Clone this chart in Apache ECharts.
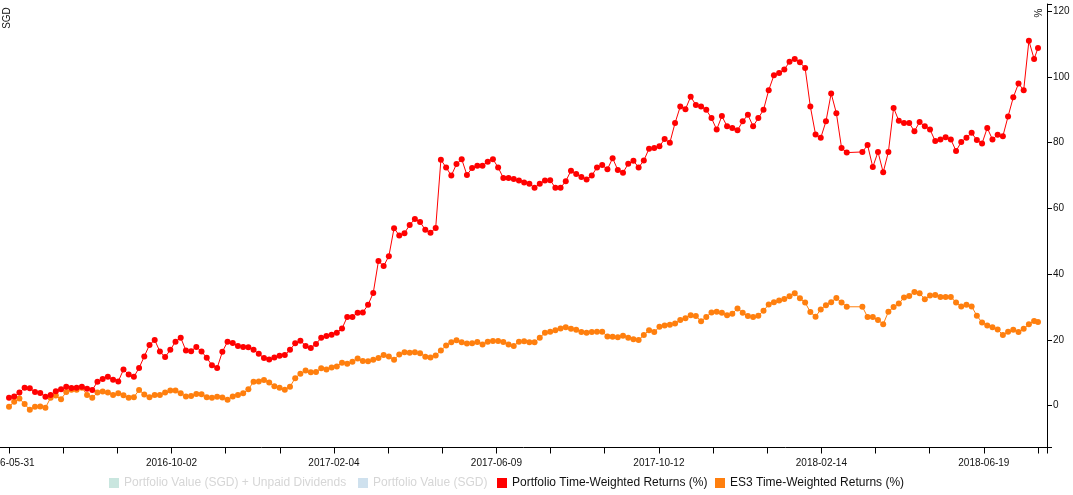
<!DOCTYPE html>
<html><head><meta charset="utf-8">
<script src="https://cdn.jsdelivr.net/npm/echarts@6/dist/echarts.min.js"></script>
<style>html,body{margin:0;padding:0;background:#fff}#c{width:1073px;height:495px}</style>
</head><body><div id="c"></div>
<script>
const dates = [
'2016-05-31','2016-06-04','2016-06-08','2016-06-12','2016-06-16','2016-06-20','2016-06-24','2016-06-28','2016-07-02','2016-07-06',
'2016-07-10','2016-07-14','2016-07-18','2016-07-22','2016-07-26','2016-07-30','2016-08-03','2016-08-07','2016-08-11','2016-08-15',
'2016-08-19','2016-08-23','2016-08-27','2016-08-31','2016-09-04','2016-09-08','2016-09-12','2016-09-16','2016-09-20','2016-09-24',
'2016-09-28','2016-10-02','2016-10-06','2016-10-10','2016-10-14','2016-10-18','2016-10-22','2016-10-26','2016-10-30','2016-11-03',
'2016-11-07','2016-11-11','2016-11-15','2016-11-19','2016-11-23','2016-11-27','2016-12-01','2016-12-05','2016-12-09','2016-12-13',
'2016-12-17','2016-12-21','2016-12-25','2016-12-29','2017-01-02','2017-01-06','2017-01-10','2017-01-14','2017-01-18','2017-01-22',
'2017-01-26','2017-01-30','2017-02-03','2017-02-07','2017-02-11','2017-02-15','2017-02-19','2017-02-23','2017-02-27','2017-03-03',
'2017-03-07','2017-03-11','2017-03-15','2017-03-19','2017-03-23','2017-03-27','2017-03-31','2017-04-04','2017-04-08','2017-04-12',
'2017-04-16','2017-04-20','2017-04-24','2017-04-28','2017-05-02','2017-05-06','2017-05-10','2017-05-14','2017-05-18','2017-05-22',
'2017-05-26','2017-05-30','2017-06-03','2017-06-07','2017-06-11','2017-06-15','2017-06-19','2017-06-23','2017-06-27','2017-07-01',
'2017-07-05','2017-07-09','2017-07-13','2017-07-17','2017-07-21','2017-07-25','2017-07-29','2017-08-02','2017-08-06','2017-08-10',
'2017-08-14','2017-08-18','2017-08-22','2017-08-26','2017-08-30','2017-09-03','2017-09-07','2017-09-11','2017-09-15','2017-09-19',
'2017-09-23','2017-09-27','2017-10-01','2017-10-05','2017-10-09','2017-10-13','2017-10-17','2017-10-21','2017-10-25','2017-10-29',
'2017-11-02','2017-11-06','2017-11-10','2017-11-14','2017-11-18','2017-11-22','2017-11-26','2017-11-30','2017-12-04','2017-12-08',
'2017-12-12','2017-12-16','2017-12-20','2017-12-24','2017-12-28','2018-01-01','2018-01-05','2018-01-09','2018-01-13','2018-01-17',
'2018-01-21','2018-01-25','2018-01-29','2018-02-02','2018-02-06','2018-02-10','2018-02-14','2018-02-18','2018-02-22','2018-02-26',
'2018-03-02','2018-03-06',
'2018-03-18','2018-03-22','2018-03-26','2018-03-30','2018-04-03','2018-04-07','2018-04-11','2018-04-15',
'2018-04-19','2018-04-23','2018-04-27','2018-05-01','2018-05-05','2018-05-09','2018-05-13','2018-05-17','2018-05-21','2018-05-25',
'2018-05-29','2018-06-02','2018-06-06','2018-06-10','2018-06-14','2018-06-18','2018-06-22','2018-06-26','2018-06-30','2018-07-04',
'2018-07-08','2018-07-12','2018-07-16','2018-07-20','2018-07-24','2018-07-28','2018-07-31'
];
const portfolioTWR = [
2.4,2.8,4.0,5.5,5.3,4.2,3.9,2.7,3.3,4.4,
5.0,5.8,5.4,5.5,5.8,5.2,4.8,7.3,8.1,8.8,
7.9,7.4,11.0,9.5,8.8,11.5,15.0,18.5,20.0,16.5,
14.8,17.0,19.5,20.7,16.8,16.6,17.9,16.5,14.6,12.3,
11.5,16.4,19.5,19.1,18.2,17.9,17.8,17.0,15.8,14.5,
14.1,14.7,15.2,15.4,17.0,19.0,19.8,18.2,17.6,18.8,
20.7,21.2,21.6,22.2,23.5,27.0,27.0,28.3,28.4,30.7,
34.3,44.0,42.5,45.5,54.0,51.8,52.5,55.0,56.8,55.9,
53.5,52.6,54.1,74.8,72.5,70.0,73.5,75.0,70.2,72.3,
73.0,73.0,74.2,75.0,72.5,69.3,69.3,69.0,68.5,67.9,
67.5,66.3,67.5,68.5,68.6,66.3,66.3,68.3,71.5,70.5,
69.6,68.8,70.0,72.5,73.2,71.9,75.3,71.7,70.9,73.6,
74.5,72.5,74.6,78.2,78.4,78.9,81.1,80.0,86.0,91.0,
90.2,94.0,91.5,91.0,90.0,87.5,84.0,88.1,85.0,84.5,
83.8,86.5,88.5,85.0,87.5,90.0,96.0,100.5,101.2,102.3,
104.6,105.5,104.5,102.7,91.0,82.5,81.5,86.5,95.0,89.0,
78.4,77.0,
77.2,79.3,72.6,77.2,71.0,77.2,90.6,86.7,
86.0,86.0,83.5,86.3,85.0,84.0,80.5,81.0,81.7,81.0,
77.5,80.2,81.5,83.0,80.8,79.8,84.5,81.0,82.4,82.0,
88.0,93.8,98.0,96.0,111.0,105.5,108.8
];
const es3TWR = [
-0.3,1.2,2.2,0.5,-1.2,-0.3,-0.2,-0.6,2.4,3.1,
2.0,4.2,4.9,4.9,5.5,3.3,2.4,4.0,4.3,4.0,
3.3,3.8,3.2,2.4,2.6,4.8,3.4,2.6,3.3,3.3,
4.0,4.6,4.6,3.8,2.8,3.0,3.6,3.5,2.6,2.4,
2.7,2.5,1.8,2.8,3.3,3.8,5.0,7.3,7.4,7.8,
7.1,5.9,5.5,4.9,5.8,8.4,9.7,10.7,10.2,10.3,
11.4,11.0,11.6,11.9,13.1,12.8,13.4,14.4,13.6,13.5,
14.0,14.5,15.4,15.0,14.0,15.6,16.3,16.1,16.3,16.0,
14.9,14.7,15.3,16.8,18.3,19.3,19.9,19.3,18.9,19.0,
19.4,18.6,19.5,19.7,19.7,19.4,18.6,18.2,19.5,19.6,
19.3,19.3,20.7,22.2,22.5,23.0,23.5,23.9,23.4,23.1,
22.4,22.2,22.4,22.5,22.5,21.1,21.0,20.8,21.3,20.7,
20.2,20.0,21.5,23.0,22.4,24.0,24.4,24.6,25.0,26.1,
26.6,27.5,27.3,25.7,27.0,28.4,28.6,28.3,27.5,28.0,
29.6,28.3,27.3,27.0,27.4,28.9,30.8,31.5,32.0,32.5,
33.3,34.2,32.7,31.4,28.5,27.1,29.3,30.6,31.5,32.8,
31.4,30.1,
30.1,27.0,27.0,26.1,24.8,28.6,30.0,31.1,
32.9,33.4,34.6,34.2,32.4,33.5,33.7,33.1,33.1,33.1,
31.4,30.2,30.7,30.2,27.4,25.3,24.4,23.9,23.2,21.5,
22.5,23.1,22.4,23.4,24.8,25.8,25.5
];
const xTickLabels = ['2016-05-31','2016-10-02','2017-02-04','2017-06-09','2017-10-12','2018-02-14','2018-06-19'];
const yTickLabels = [0,20,40,60,80,100,120];
const seriesNames = ['Portfolio Value (SGD) + Unpaid Dividends','Portfolio Value (SGD)','Portfolio Time-Weighted Returns (%)','ES3 Time-Weighted Returns (%)'];

function ts(s){const p=s.split('-');return Date.UTC(+p[0],+p[1]-1,+p[2]);}
const DAY=86400000;
const first=ts(dates[0]), last=ts(dates[dates.length-1]);
const nTicks=20;
const step=(last-first)/(nTicks-1);
const ticks=[];
for(let k=0;k<nTicks;k++) ticks.push(first+k*step);
const pad=6.92*DAY;
const xMin=first-pad, xMax=last+pad;
const labelVals=ticks.filter((v,k)=>k%3===0 && k<nTicks-1);
const yMin=-12.7, yMax=122.2;

const font='"Liberation Sans", Arial, sans-serif';
const redData=dates.map((d,i)=>[ts(d),portfolioTWR[i]]);
const orData=dates.map((d,i)=>[ts(d),es3TWR[i]]);

const chart=echarts.init(document.getElementById('c'),null,{renderer:'canvas'});
const legendStyles=[
 {left:109, icon:'#c9e6df', text:'#d6d6d6'},
 {left:358, icon:'#cfe1ee', text:'#d6d6d6'},
 {left:497, icon:'#ff0000', text:'#111'},
 {left:715, icon:'#ff7f0e', text:'#111'}
];
chart.setOption({
 animation:false,
 backgroundColor:'#fff',
 textStyle:{fontFamily:font},
 grid:{left:0,right:26,top:4,bottom:47.5,containLabel:false,outerBoundsMode:'none'},
 legend:legendStyles.map((s,i)=>({
   left:s.left, top:477, padding:0, itemWidth:10, itemHeight:10, selectedMode:false,
   icon:'rect',
   data:[{name:seriesNames[i], icon:'rect', itemStyle:{color:s.icon,borderWidth:0}, textStyle:{color:s.text,fontSize:12,fontFamily:font}}],
   textStyle:{fontSize:12,fontFamily:font,color:s.text}
 })),
 xAxis:{
   type:'value', min:xMin, max:xMax, scale:true,
   axisLine:{show:true,onZero:false,lineStyle:{color:'#000',width:1}},
   axisTick:{show:true,length:6,inside:false,customValues:ticks.concat([xMax]),lineStyle:{color:'#000'}},
   axisLabel:{show:true,customValues:labelVals,margin:11,fontSize:10,color:'#111',fontFamily:font,
     formatter:function(v){const idx=Math.round((v-first)/(3*step));return xTickLabels[idx]||'';}},
   splitLine:{show:false}
 },
 yAxis:{
   type:'value', position:'right', min:yMin, max:yMax,
   axisLine:{show:true,onZero:false,lineStyle:{color:'#000',width:1}},
   axisTick:{show:true,length:5,customValues:[yMin].concat(yTickLabels,[yMax]),lineStyle:{color:'#000'}},
   axisLabel:{show:true,customValues:yTickLabels,margin:6,fontSize:10,color:'#111',fontFamily:font},
   splitLine:{show:false}
 },
 graphic:[
   {type:'text',x:7,y:18,rotation:Math.PI/2,style:{text:'SGD',fontSize:10,fontFamily:font,fill:'#111',align:'center',verticalAlign:'middle'}},
   {type:'text',x:1039,y:13,rotation:Math.PI/2,style:{text:'%',fontSize:10,fontFamily:font,fill:'#111',align:'center',verticalAlign:'middle'}}
 ],
 series:[
  {name:seriesNames[0],type:'line',data:[],itemStyle:{color:legendStyles[0].icon},lineStyle:{color:legendStyles[0].icon}},
  {name:seriesNames[1],type:'line',data:[],itemStyle:{color:legendStyles[1].icon},lineStyle:{color:legendStyles[1].icon}},
  {name:seriesNames[3],type:'line',data:orData,symbol:'circle',symbolSize:6,showAllSymbol:true,
   itemStyle:{color:'#ff7f0e'},lineStyle:{color:'#ff7f0e',width:1},emphasis:{disabled:true},z:2},
  {name:seriesNames[2],type:'line',data:redData,symbol:'circle',symbolSize:6,showAllSymbol:true,
   itemStyle:{color:'#ff0000'},lineStyle:{color:'#ff0000',width:1},emphasis:{disabled:true},z:3}
 ]
});
</script></body></html>
